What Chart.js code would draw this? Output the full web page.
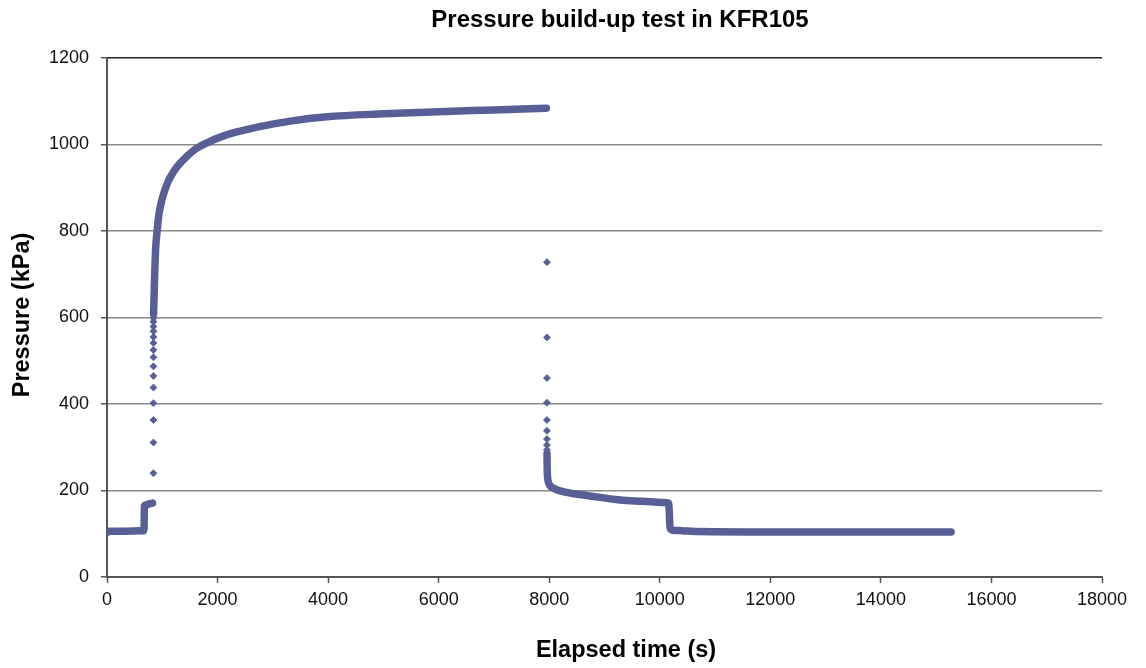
<!DOCTYPE html>
<html>
<head>
<meta charset="utf-8">
<script src="https://cdn.jsdelivr.net/npm/chart.js@4.4.1/dist/chart.umd.min.js"></script>
<style>
  html, body { margin: 0; padding: 0; background: #ffffff; }
  #wrap { width: 1146px; height: 668px; }
</style>
</head>
<body>
<div id="wrap"><canvas id="c" width="1146" height="668"></canvas></div>
<script>
// ---- Data ----
const chartTitle = "Pressure build-up test in KFR105";
const xAxisTitle = "Elapsed time (s)";
const yAxisTitle = "Pressure (kPa)";

const xTickValues = [0, 2000, 4000, 6000, 8000, 10000, 12000, 14000, 16000, 18000];
const yTickValues = [0, 200, 400, 600, 800, 1000, 1200];

// Pre-test plateau and first pressure step (dense records)
const stepTimes     = [0, 40, 300, 660, 670, 674, 677, 690, 760, 822];
const stepPressures = [103, 106, 106, 107, 112, 140, 163, 166, 169, 171];

// Sparse records during the fast pressure rise
const riseTimes     = [840, 840, 840, 840, 840, 840, 840, 840, 840, 840, 840, 840, 840, 840, 840];
const risePressures = [240, 311, 363, 402, 438, 465, 487, 508, 525, 541, 555, 568, 579, 590, 599];

// Build-up curve (dense records)
const buildTimes     = [842, 850, 860, 868, 880, 904, 934, 995, 1097, 1194, 1277, 1447, 1597, 1809, 2110, 2411, 2833, 3316, 3980, 5000, 6000, 7000, 7950];
const buildPressures = [608, 641, 690, 718, 760, 796, 834, 873, 912, 935, 950, 973, 989, 1004, 1020, 1031, 1043, 1054, 1064, 1071, 1076, 1080, 1084];

// Sparse records during the pressure release
const fallTimes     = [7959, 7959, 7959, 7959, 7959, 7959, 7959, 7959, 7959];
const fallPressures = [728, 554, 460, 403, 363, 338, 319, 305, 294];

// Recovery curve (dense records)
const recTimes     = [7960, 7962, 7965, 7972, 7985, 8010, 8080, 8200, 8381, 8700, 9286, 9700, 10070, 10160, 10172, 10182, 10200, 10240, 10400, 10700, 12000, 15270];
const recPressures = [285, 262, 242, 228, 219, 212, 205, 199, 194, 188, 178, 175, 172, 171, 150, 120, 110, 108, 107, 105, 104, 104];

// ---- Helpers ----
const markColor = '#585f96';
const fontFamily = "'Liberation Sans', Arial, Helvetica, sans-serif";
function pts(ts, ps) { return ts.map((t, i) => ({ x: t, y: ps[i] })); }

function denseSet(ts, ps) {
  return {
    data: pts(ts, ps), showLine: true, borderColor: markColor, backgroundColor: markColor,
    borderWidth: 7.5, borderJoinStyle: 'round', borderCapStyle: 'round',
    pointRadius: 0, cubicInterpolationMode: 'monotone'
  };
}
function sparseSet(ts, ps) {
  return {
    data: pts(ts, ps), showLine: false, pointStyle: 'rectRot',
    pointRadius: 3.5, pointBorderWidth: 0.8,
    pointBackgroundColor: markColor, pointBorderColor: markColor
  };
}

const textPlugin = {
  id: 'texts',
  afterDraw(chart) {
    const ctx = chart.ctx;
    ctx.save();
    ctx.fillStyle = '#000';
    ctx.textAlign = 'center';
    ctx.textBaseline = 'middle';
    ctx.font = "bold 24px " + fontFamily;
    ctx.fillText(chartTitle, 620, 20);
    ctx.font = "bold 23.5px " + fontFamily;
    ctx.fillText(xAxisTitle, 626, 651);
    ctx.translate(23, 315);
    ctx.rotate(-Math.PI / 2);
    ctx.fillText(yAxisTitle, 0, 0);
    ctx.restore();
  }
};

new Chart(document.getElementById('c'), {
  type: 'scatter',
  data: {
    datasets: [
      denseSet(stepTimes, stepPressures),
      sparseSet(riseTimes, risePressures),
      denseSet(buildTimes, buildPressures),
      sparseSet(fallTimes, fallPressures),
      denseSet(recTimes, recPressures)
    ]
  },
  options: {
    responsive: false,
    devicePixelRatio: 1,
    animation: false,
    layout: { padding: { left: 0, right: 44, top: 58, bottom: 0 } },
    plugins: { legend: { display: false }, title: { display: false }, tooltip: { enabled: false } },
    scales: {
      x: {
        type: 'linear', min: 0, max: 18000,
        afterFit(s) { s.height = 91; },
        afterBuildTicks(s) { s.ticks = xTickValues.map(v => ({ value: v })); },
        border: { display: true, color: '#555', width: 2 },
        grid: { drawOnChartArea: false, drawTicks: true, tickLength: 6, tickColor: '#555', tickWidth: 1.5 },
        ticks: {
          color: '#111', padding: 6, maxRotation: 0, autoSkip: false,
          font: { family: fontFamily, size: 18 },
          callback: v => String(v)
        }
      },
      y: {
        type: 'linear', min: 0, max: 1200,
        afterFit(s) { s.width = 107; },
        afterBuildTicks(s) { s.ticks = yTickValues.map(v => ({ value: v })); },
        border: { display: true, color: '#555', width: 2 },
        grid: {
          drawOnChartArea: true, drawTicks: true, tickLength: 6,
          color: ctx => (ctx.tick && ctx.tick.value === 1200) ? '#222' : '#8a8a8a',
          lineWidth: 1.5, tickColor: '#555', tickWidth: 1.5
        },
        ticks: {
          color: '#111', padding: 12, autoSkip: false,
          font: { family: fontFamily, size: 18 },
          callback: v => String(v)
        }
      }
    }
  },
  plugins: [textPlugin]
});
</script>
</body>
</html>
